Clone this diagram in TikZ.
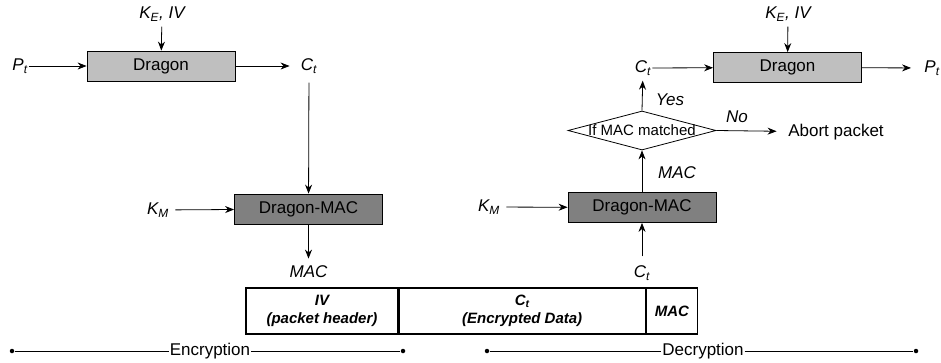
\documentclass[tikz,border=0pt]{standalone}
\usepackage{fontspec}
\setmainfont{Liberation Sans}
\usetikzlibrary{arrows.meta}
\usetikzlibrary{shapes.geometric}
\newcommand{\labsub}[2]{\textit{#1}\textsubscript{\textit{#2}}}

\begin{document}
\begin{tikzpicture}[x=1pt,y=-1pt,line width=0.8pt,
    every node/.style={font=\fontsize{17}{20}\selectfont},
    >={Stealth[length=9pt,width=7pt]},
    cipher/.style={draw,fill=black!25,minimum width=148pt,minimum height=30pt,inner sep=0pt},
    macbox/.style={draw,fill=black!50,minimum width=148pt,minimum height=30pt,inner sep=0pt},
    lbl/.style={font=\fontsize{17}{20}\selectfont\itshape,inner sep=1pt},
    cell/.style={draw,line width=1.2pt,minimum height=46pt,inner sep=0pt,align=center,
      font=\fontsize{15}{18}\selectfont\bfseries\itshape},
    check/.style={diamond,draw,aspect=3.8,inner xsep=-6pt,inner ysep=0pt,
      minimum width=148pt,minimum height=39pt,font=\fontsize{15}{18}\selectfont},
    endpt/.style={circle,fill,inner sep=0pt,minimum size=4.5pt}]
  \useasboundingbox (0,0) rectangle (941,362);

  % encryption side
  \node[cipher] (enc) at (161,66) {Dragon};
  \node[lbl] (encpt) at (20,66) {\labsub{P}{t}};
  \node[lbl] (enckey) at (162,14) {\labsub{K}{E}, IV};
  \node[lbl] (encct) at (309,66) {\labsub{C}{t}};
  \node[macbox] (encmac) at (308.5,209) {Dragon-MAC};
  \node[lbl] (enckm) at (158,210) {\labsub{K}{M}};
  \node[lbl] (encmacout) at (308.5,272) {MAC};
  \draw[->] (encpt) -- (enc);
  \draw[->,shorten <=4pt] (enckey) -- (enc);
  \draw[->,shorten >=10pt] (enc) -- (encct);
  \draw[->,shorten <=8pt] (encct) -- (encmac);
  \draw[->,shorten <=5pt] (enckm) -- (encmac);
  \draw[->,shorten >=6pt] (encmac) -- (encmacout);

  % decryption side
  \node[cipher] (dec) at (787.5,67.5) {Dragon};
  \node[lbl] (decct) at (643,68) {\labsub{C}{t}};
  \node[lbl] (decpt) at (932,68) {\labsub{P}{t}};
  \node[lbl] (deckey) at (788,14) {\labsub{K}{E}, IV};
  \node[check] (match) at (642,130.5) {If MAC matched};
  \node (abort) at (836,132) {Abort packet};
  \node[macbox] (decmac) at (642,207.5) {Dragon-MAC};
  \node[lbl] (deckm) at (489,207) {\labsub{K}{M}};
  \node[lbl] (decctin) at (642,273) {\labsub{C}{t}};
  \draw[->] (decct) -- (dec);
  \draw[->,shorten <=4pt] (deckey) -- (dec);
  \draw[->,shorten >=12pt] (dec) -- (decpt);
  \draw[->,shorten >=4pt] (match.north) -- (decct);
  \draw[->,shorten >=8pt] (match.east) -- (abort);
  \draw[->] (decmac) -- (match.south);
  \draw[->,shorten <=5pt] (deckm) -- (decmac);
  \draw[->,shorten <=8pt] (decctin) -- (decmac);
  \node[lbl] at (670,100) {Yes};
  \node[lbl] at (737,117) {No};
  \node[lbl] at (677,173) {MAC};

  % packet
  \node[cell,minimum width=152pt] (ivcell) at (322,311) {IV\\(packet header)};
  \node[cell,minimum width=246pt,anchor=west] (ctcell) at (ivcell.east) {C\textsubscript{t}\\(Encrypted Data)};
  \node[cell,minimum width=51pt,anchor=west] (maccell) at (ctcell.east) {MAC};

  % phases
  \node[endpt] (encl) at (12,351) {};
  \node[inner sep=0.5pt] (enctxt) at (210,351) {Encryption};
  \node[endpt] (encr) at (403,351) {};
  \draw (encl) -- (enctxt) -- (encr);
  \node[endpt] (decl) at (487,351) {};
  \node[inner sep=0.5pt] (dectxt) at (703,351) {Decryption};
  \node[endpt] (decr) at (916,351) {};
  \draw (decl) -- (dectxt) -- (decr);
\end{tikzpicture}
\end{document}
